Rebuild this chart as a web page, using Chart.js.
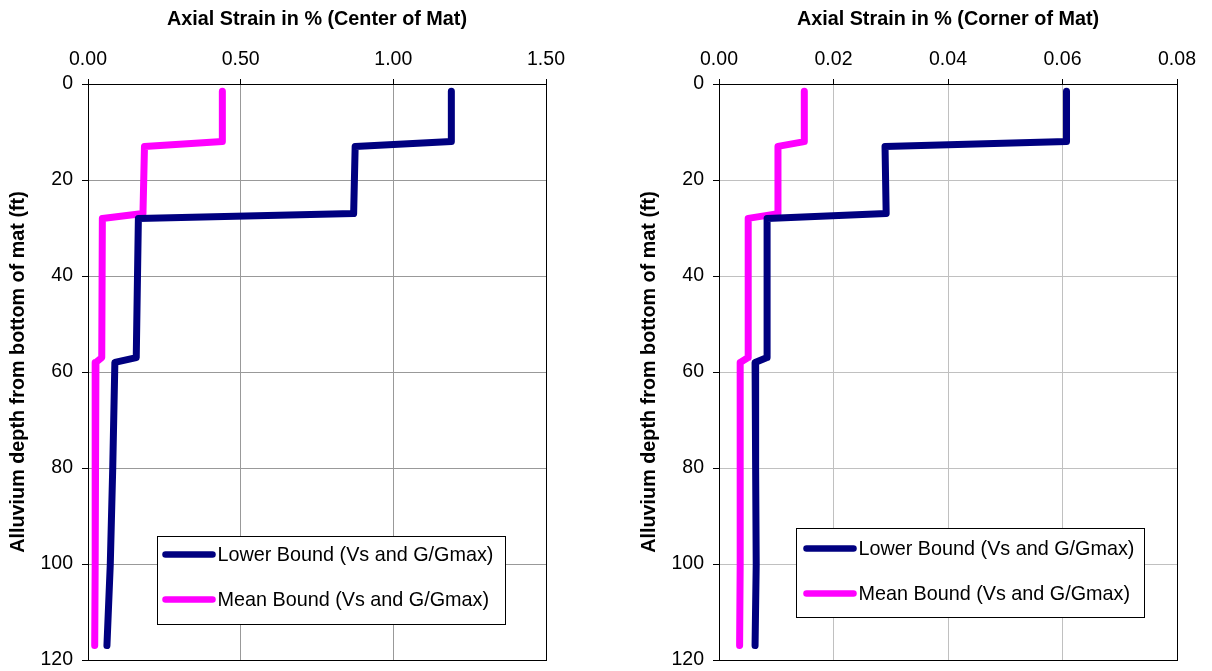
<!DOCTYPE html>
<html>
<head>
<meta charset="utf-8">
<script src="https://cdn.jsdelivr.net/npm/chart.js@4.4.1/dist/chart.umd.min.js"></script>
<style>
  html, body { margin: 0; padding: 0; background: #fff; overflow: hidden; }
  #wrap { position: relative; width: 1212px; height: 671px; }
  canvas { position: absolute; top: 0; }
  #centerChart { left: 0; }
  #cornerChart { left: 631px; }
</style>
</head>
<body>
<div id="wrap">
  <canvas id="centerChart" width="581" height="671"></canvas>
  <canvas id="cornerChart" width="581" height="671"></canvas>
</div>
<script>
// depth below bottom of mat (ft), shared by every series
const depths = [1.5, 12, 13, 27, 28, 57, 58, 80, 100, 117];

// axial strain in %, center of mat
const centerLower = [1.19, 1.19, 0.875, 0.87, 0.165, 0.158, 0.088, 0.081, 0.073, 0.062];
const centerMean  = [0.44, 0.44, 0.185, 0.18, 0.047, 0.045, 0.026, 0.024, 0.023, 0.022];

// axial strain in %, corner of mat
const cornerLower = [0.0607, 0.0607, 0.029, 0.0292, 0.0084, 0.0084, 0.0063, 0.0064, 0.0065, 0.0063];
const cornerMean  = [0.0149, 0.0149, 0.0103, 0.0103, 0.0051, 0.0051, 0.0037, 0.0037, 0.0037, 0.0036];

const seriesNames = ['Lower Bound (Vs and G/Gmax)', 'Mean Bound (Vs and G/Gmax)'];
const seriesColors = ['#000080', '#FF00FF'];
const depthTicks = [0, 20, 40, 60, 80, 100, 120];

const FONT = '"Liberation Sans", Arial, sans-serif';

function toPoints(xs) {
  return xs.map((x, i) => ({ x: x, y: depths[i] }));
}

// black frame round the plot area + boxed legend inside it
const frameAndLegend = {
  id: 'frameAndLegend',
  afterDatasetsDraw(chart, args, opts) {
    const ctx = chart.ctx;
    const a = chart.chartArea;
    ctx.save();
    ctx.strokeStyle = '#000';
    ctx.lineWidth = 1;
    ctx.strokeRect(Math.round(a.left) + 0.5, Math.round(a.top) + 0.5,
      Math.round(a.right - a.left), Math.round(a.bottom - a.top));

    const bx = Math.round(a.left + opts.x) + 0.5;
    const by = Math.round(a.top + opts.y) + 0.5;
    ctx.fillStyle = '#fff';
    ctx.fillRect(bx, by, opts.w, opts.h);
    ctx.strokeRect(bx, by, opts.w, opts.h);

    ctx.font = '19.8px ' + FONT;
    ctx.textBaseline = 'middle';
    ctx.lineCap = 'round';
    chart.data.datasets.forEach((ds, i) => {
      const yy = by + opts.rowY[i];
      ctx.strokeStyle = ds.borderColor;
      ctx.lineWidth = 6.5;
      ctx.beginPath();
      ctx.moveTo(bx + opts.lineX, yy);
      ctx.lineTo(bx + opts.lineX + 47, yy);
      ctx.stroke();
      ctx.fillStyle = '#000';
      ctx.fillText(ds.label, bx + opts.lineX + 52, yy + 1);
    });
    ctx.restore();
  }
};

function makeChart(id, title, lower, mean, xMax, xStep, gridColor, legendPos) {
  return new Chart(document.getElementById(id), {
    type: 'scatter',
    data: {
      datasets: [lower, mean].map((vals, i) => ({
        label: seriesNames[i],
        data: toPoints(vals),
        showLine: true,
        borderColor: seriesColors[i],
        backgroundColor: seriesColors[i],
        borderWidth: 7,
        borderCapStyle: 'round',
        borderJoinStyle: 'round',
        pointRadius: 0,
        tension: 0
      }))
    },
    options: {
      responsive: false,
      animation: false,
      layout: { padding: { left: 0, right: 35, top: 0, bottom: 11 } },
      plugins: {
        legend: { display: false },
        tooltip: { enabled: false },
        frameAndLegend: legendPos
      },
      scales: {
        x: {
          type: 'linear',
          position: 'top',
          min: 0,
          max: xMax,
          afterFit: s => { s.height = 84; s.paddingLeft = 0; s.paddingRight = 0; },
          afterBuildTicks: s => {
            s.ticks = [];
            for (let i = 0; i <= Math.round(xMax / xStep); i++) s.ticks.push({ value: +(i * xStep).toFixed(4) });
          },
          ticks: {
            color: '#000',
            font: { family: FONT, size: 19.5 },
            padding: 8,
            maxRotation: 0,
            callback: v => v.toFixed(2)
          },
          grid: { color: gridColor, tickColor: '#000', tickLength: 5, lineWidth: 1 },
          border: { display: true, color: '#000' },
          title: {
            display: true,
            text: title,
            color: '#000',
            font: { family: FONT, size: 19.8, weight: 'bold' },
            padding: { top: 8, bottom: 0 }
          }
        },
        y: {
          type: 'linear',
          reverse: true,
          min: 0,
          max: 120,
          afterFit: s => { s.width = 88; s.paddingTop = 0; s.paddingBottom = 0; },
          afterBuildTicks: s => { s.ticks = depthTicks.map(v => ({ value: v })); },
          ticks: {
            color: '#000',
            font: { family: FONT, size: 19.5 },
            padding: 9
          },
          grid: { color: gridColor, tickColor: '#000', tickLength: 6, lineWidth: 1 },
          border: { display: true, color: '#000' },
          title: {
            display: true,
            text: 'Alluvium depth from bottom of mat (ft)',
            color: '#000',
            font: { family: FONT, size: 19.8, weight: 'bold' },
            padding: { top: 7, bottom: 0 }
          }
        }
      }
    },
    plugins: [frameAndLegend]
  });
}

makeChart('centerChart', 'Axial Strain in % (Center of Mat)', centerLower, centerMean, 1.5, 0.5, '#999999',
  { x: 69, y: 452, w: 348, h: 88, lineX: 8, rowY: [18, 63] });
makeChart('cornerChart', 'Axial Strain in % (Corner of Mat)', cornerLower, cornerMean, 0.08, 0.02, '#c0c0c0',
  { x: 77, y: 444, w: 348, h: 89, lineX: 10, rowY: [20, 65] });
</script>
</body>
</html>
